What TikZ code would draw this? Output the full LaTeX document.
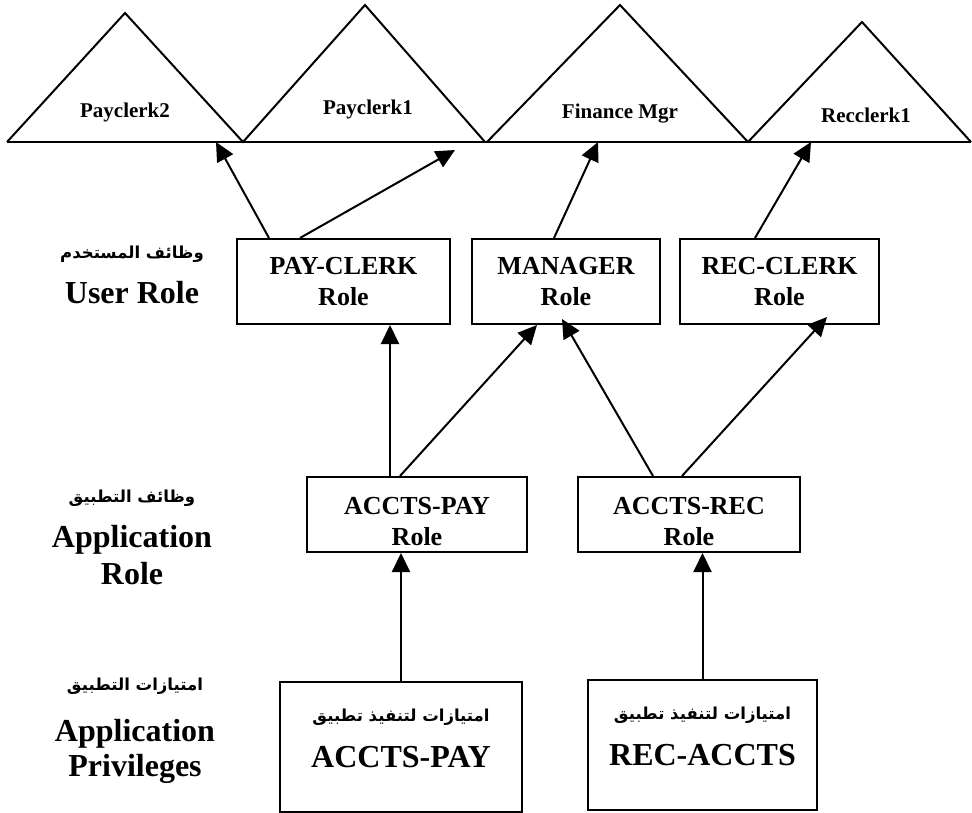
\documentclass[tikz,border=0pt]{standalone}
\usepackage{fontspec}
\setmainfont{Liberation Serif}
\newfontfamily\arabicfont[Script=Arabic]{DejaVu Sans Bold}
\TeXXeTstate=1
\usetikzlibrary{arrows.meta}
\newcommand{\arb}[1]{{\arabicfont\fontsize{16.5}{20}\selectfont\beginR #1\endR}}

\begin{document}
\begin{tikzpicture}[x=1pt,y=-1pt,line width=2pt,
  box/.style={draw,line width=2pt,align=center,inner sep=0pt,font=\bfseries\fontsize{26}{31}\selectfont},
  privbox/.style={box,font=\bfseries\fontsize{32}{46}\selectfont},
  lvl/.style={align=center,font=\bfseries\fontsize{32}{37}\selectfont},
  acct/.style={font=\bfseries\fontsize{21}{24}\selectfont},
  arr/.style={-{Triangle[length=19pt,width=18pt]},line width=2pt}]
\useasboundingbox (0,0) rectangle (972,813);
% user accounts
\draw (7,142) -- (125,13) -- (243,142) -- (365,5) -- (485,142);
\draw (487,142) -- (620,5) -- (748,142) -- (862,22) -- (971,142);
\draw (7,142) -- (971,142);
\node[acct] (pk2) at (125,112) {Payclerk2};
\node[acct] (pk1) at (368,109) {Payclerk1};
\node[acct] (fm) at (620,114) {Finance Mgr};
\node[acct] (rk1) at (866,115) {Recclerk1};
\coordinate (pk2in) at (216,142);
\coordinate (pk1in) at (455,150);
\coordinate (fmin) at (598,142);
\coordinate (rk1in) at (811,142);
% level labels
\node[lvl] (lu) at (132,275) {\arb{وظائف المستخدم}\\[8pt] User Role};
\node[lvl] (la) at (132,537) {\arb{وظائف التطبيق}\\[8pt] Application\\ Role};
\node[lvl] (lp) at (135,731) {\arb{امتيازات التطبيق}\\[14pt] Application\\[-2pt] Privileges};
% roles
\node[box,minimum width=213pt,minimum height=85pt] (pc) at (343.5,281.5) {PAY-CLERK\\ Role};
\node[box,minimum width=188pt,minimum height=85pt] (mg) at (566,281.5) {MANAGER\\ Role};
\node[box,minimum width=199pt,minimum height=85pt] (rc) at (779.5,281.5) {REC-CLERK\\ Role};
\node[box,text height=63pt,minimum width=220pt,minimum height=75pt] (ap) at (417,514.5) {ACCTS-PAY\\ Role};
\node[box,text height=63pt,minimum width=222pt,minimum height=75pt] (ar) at (689,514.5) {ACCTS-REC\\ Role};
\node[privbox,minimum width=242pt,minimum height=130pt] (pp) at (401,747) {\arb{امتيازات لتنفيذ تطبيق}\\ ACCTS-PAY\\[-28pt]};
\node[privbox,minimum width=229pt,minimum height=130pt] (pr) at (702.5,745) {\arb{امتيازات لتنفيذ تطبيق}\\ REC-ACCTS\\[-28pt]};
% grants
\draw[arr] ([xshift=-74.5pt]pc.north) -- (pk2in);
\draw[arr] ([xshift=-43.5pt]pc.north) -- (pk1in);
\draw[arr] ([xshift=-12pt]mg.north) -- (fmin);
\draw[arr] ([xshift=-24.5pt]rc.north) -- (rk1in);
\draw[arr] ([xshift=-27pt]ap.north) -- ([xshift=-27pt]ap.north |- pc.south);
\draw[arr] ([xshift=-17pt]ap.north) -- ([xshift=-29pt]mg.south);
\draw[arr] ([xshift=-36pt]ar.north) -- ([xshift=-4pt,yshift=6pt]mg.south);
\draw[arr] ([xshift=-7pt]ar.north) -- ([xshift=47.5pt,yshift=8pt]rc.south);
\draw[arr] (pp.north) -- (pp.north |- ap.south);
\draw[arr] (pr.north) -- (pr.north |- ar.south);
\end{tikzpicture}
\end{document}
